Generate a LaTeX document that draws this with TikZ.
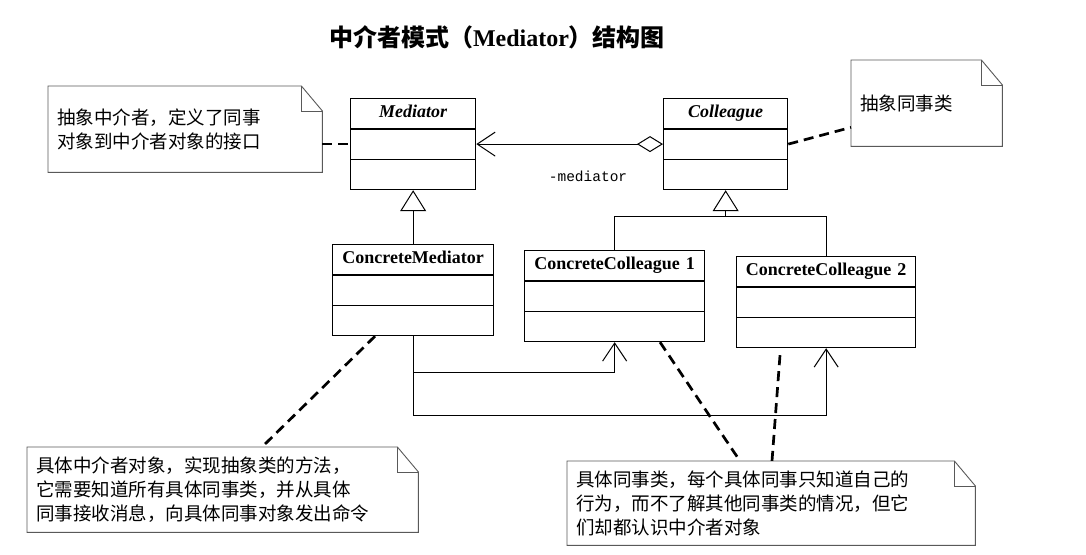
\documentclass[tikz,border=0pt]{standalone}
\usepackage{fontspec}
\setmainfont{Liberation Serif}
\setmonofont{Liberation Mono}
\newfontfamily\cjk{Noto Sans CJK SC}
\usetikzlibrary{shapes.multipart,arrows.meta}

\tikzset{
  umlclass/.style={draw, line width=1.3pt, rectangle split, rectangle split parts=3,
    anchor=north west, inner xsep=0pt, inner ysep=5pt, text width=#1, align=center,
    font=\fontsize{18}{19}\selectfont\bfseries},
  note/.style={anchor=north west, inner xsep=9pt, align=left,
    font=\cjk\fontsize{18.5}{24}\selectfont},
  noteline/.style={draw=black!65, line width=0.9pt},
  attach/.style={line width=2.7pt, dash pattern=on 10pt off 6pt},
  inherit/.style={line width=1pt, -{Triangle[open,length=21pt,width=26pt,line width=1pt]}},
  assoc/.style={line width=1pt, -{Straight Barb[length=18pt,width=24pt,line width=1pt]}},
}
\newcommand\notebox[1]{%
  \draw[noteline] (#1.north west) -- ([xshift=-21pt]#1.north east)
    -- ([yshift=-25pt]#1.north east) -- (#1.south east) -- (#1.south west) -- cycle;
  \draw[noteline] ([xshift=-21pt]#1.north east) |- ([yshift=-25pt]#1.north east);
}

\begin{document}
\begin{tikzpicture}[x=1pt,y=-1pt]
  \useasboundingbox[fill=white] (0,0) rectangle (1086,554);

  \node (title) at (497,37) {\fontsize{24}{28}\selectfont\bfseries{\cjk 中介者模式（}Mediator{\cjk ）结构图}};

  % classes
  \node[umlclass=125pt] (med) at (350,98) {\strut\textit{Mediator}\nodepart{second}\strut\nodepart{third}\strut};
  \node[umlclass=124pt] (col) at (663,98) {\strut\textit{Colleague}\nodepart{second}\strut\nodepart{third}\strut};
  \node[umlclass=161pt] (cm) at (332,244) {\strut ConcreteMediator\nodepart{second}\strut\nodepart{third}\strut};
  \node[umlclass=180pt] (cc1) at (524,250) {\strut ConcreteColleague 1\nodepart{second}\strut\nodepart{third}\strut};
  \node[umlclass=179pt] (cc2) at (736,256) {\strut ConcreteColleague 2\nodepart{second}\strut\nodepart{third}\strut};

  % notes
  \node[note, text width=256pt, minimum height=86pt] (n1) at (48,86) {抽象中介者，定义了同事\\对象到中介者对象的接口};
  \node[note, text width=133pt, minimum height=86pt] (n2) at (851,60) {抽象同事类};
  \node[note, text width=373pt, minimum height=85pt] (n3) at (27,447) {具体中介者对象，实现抽象类的方法，\\它需要知道所有具体同事类，并从具体\\同事接收消息，向具体同事对象发出命令};
  \node[note, text width=390pt, minimum height=84pt] (n4) at (567,461) {具体同事类，每个具体同事只知道自己的\\行为，而不了解其他同事类的情况，但它\\们却都认识中介者对象};
  \notebox{n1} \notebox{n2} \notebox{n3} \notebox{n4}

  % relations
  \draw[line width=1pt, {Diamond[open,length=26pt,width=16pt,line width=1pt]}-{Straight Barb[length=18pt,width=24pt,line width=1pt]}]
    (col.west) -- (med.east);
  \node[font=\ttfamily\fontsize{14.5}{16}\selectfont] (role) at (588,176) {-mediator};
  \draw[inherit] (cm.north) -- (med.south);
  \coordinate (split) at ([yshift=-26pt]col.south);
  \draw[line width=1pt] (cc1.north) |- (split) -| (cc2.north);
  \draw[inherit] (split) -- (col.south);
  \draw[assoc] (cm.south) -- ++(0,36) -| (cc1.south);
  \draw[assoc] (cm.south) -- ++(0,79) -| (cc2.south);

  % note links
  \draw[attach] (med.west -| n1.east) -- (med.west);
  \draw[attach] (col.east) -- ([yshift=19pt]n2.south west);
  \draw[attach] ([xshift=43pt]cm.south west) -- ([xshift=235pt]n3.north west);
  \draw[attach] ([xshift=136pt]cc1.south west) -- ([xshift=173pt]n4.north west);
  \coordinate (cc2tail) at ([xshift=44pt,yshift=-7pt]cc2.south west);
  \draw[attach] (cc2tail) -- ([xshift=205pt]n4.north west);
\end{tikzpicture}
\end{document}
